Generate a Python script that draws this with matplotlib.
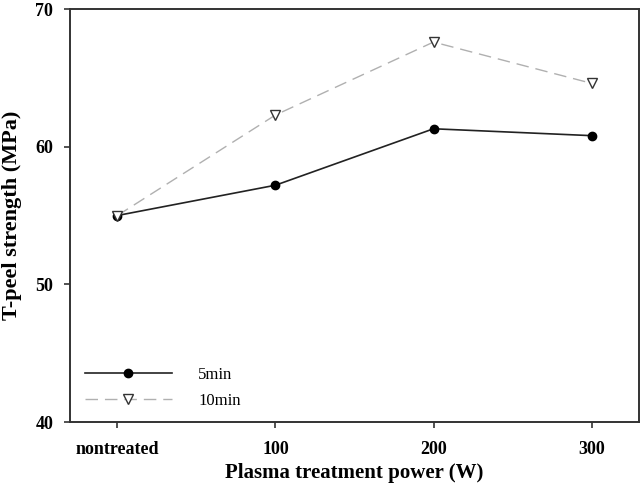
import matplotlib.pyplot as plt

# data
categories = ['nontreated', '100', '200', '300']
strength_5min = [55.0, 57.2, 61.3, 60.8]
strength_10min = [55.0, 62.3, 67.6, 64.6]
y_ticks = [40, 50, 60, 70]

plt.rcParams['font.family'] = ['Liberation Serif', 'DejaVu Serif']

fig = plt.figure(figsize=(6.43, 4.86), dpi=100)
ax = fig.add_axes([70 / 643, 1 - 422 / 486, (639 - 70) / 643, (422 - 9) / 486])

x = list(range(len(categories)))
ax.plot(x, strength_5min, color='#222222', linewidth=1.2, marker='o',
        markersize=6, markerfacecolor='black', markeredgecolor='black',
        label='5min')
ax.plot(x, strength_10min, color='#b0b0b0', linewidth=1.0, dashes=(9, 5),
        marker='v', markersize=7, markerfacecolor='white',
        markeredgecolor='#333333', markeredgewidth=1.0, label='10min')

ax.set_xlim(-0.3, 3.3)
ax.set_ylim(40, 70)
ax.set_xticks(x)
ax.set_xticklabels(categories)
ax.set_yticks(y_ticks)

for s in ax.spines.values():
    s.set_linewidth(1.4)
    s.set_color('#333333')
ax.tick_params(direction='out', length=4, width=1.2, color='#333333',
               labelsize=13, pad=10)
ax.tick_params(axis='y', pad=8)
for lab in ax.get_xticklabels() + ax.get_yticklabels():
    lab.set_fontweight('bold')

ax.set_ylabel('T-peel strength (MPa)', fontsize=16, fontweight='bold',
              labelpad=10)
ax.set_xlabel('Plasma treatment power (W)', fontsize=15, fontweight='bold',
              labelpad=3)

leg = ax.legend(loc='lower left', bbox_to_anchor=(0.0, -0.005), frameon=False,
                fontsize=12, handlelength=5.2, handletextpad=1.6,
                labelspacing=0.6)

fig.savefig('out.png', dpi=100)
